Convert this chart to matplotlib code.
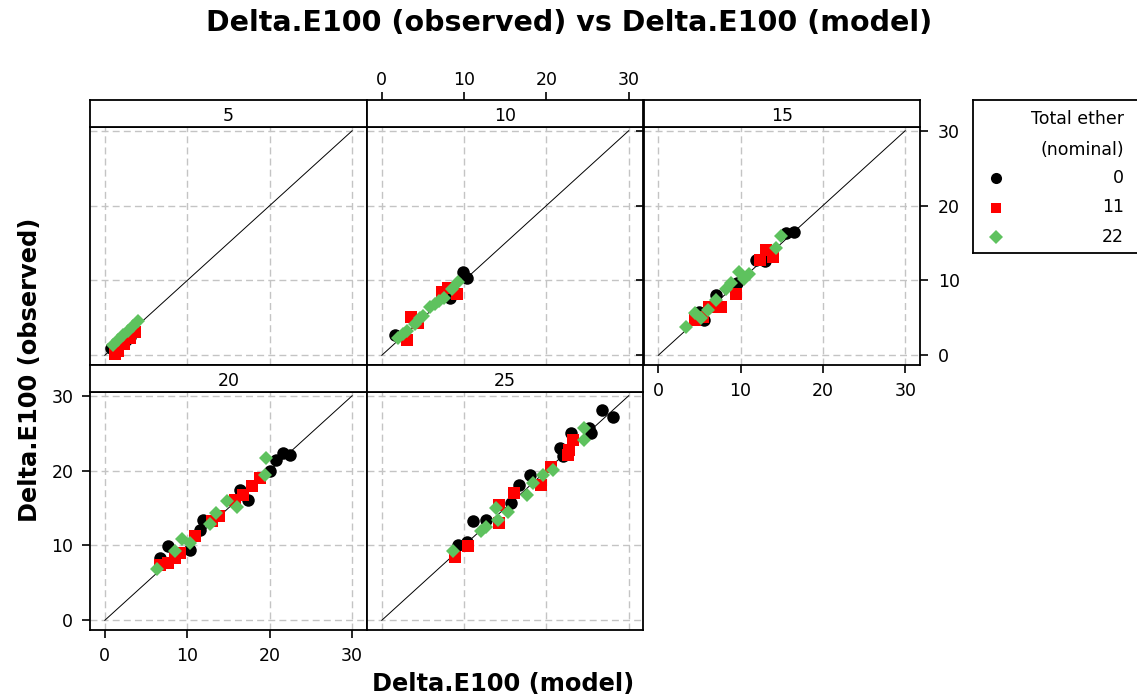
import matplotlib
matplotlib.use("Agg")
import matplotlib.pyplot as plt

# panel labels (nominal level) and ether groups
panel_labels = ['5', '10', '15', '20', '25']
ether_levels = ['0', '11', '22']

# panel "5"
x5_0 = [0.8, 1.1, 2.6, 3.1]
y5_0 = [1.0, 0.7, 2.0, 2.5]
x5_11 = [1.2, 1.6, 2.3, 3.0, 3.6]
y5_11 = [0.2, 0.6, 1.5, 2.3, 3.1]
x5_22 = [1.0, 1.6, 2.2, 2.8, 3.4, 4.0]
y5_22 = [1.4, 2.0, 2.7, 3.3, 3.9, 4.6]

# panel "10"
x10_0 = [1.6, 8.3, 9.9, 10.3]
y10_0 = [2.7, 7.6, 11.1, 10.3]
x10_11 = [3.0, 3.6, 7.3, 9.1, 8.0, 4.4]
y10_11 = [2.0, 5.1, 8.5, 8.2, 9.0, 4.3]
x10_22 = [2.0, 2.6, 3.0, 4.0, 4.6, 5.0, 5.8, 6.5, 7.0, 7.5, 8.5, 9.3]
y10_22 = [2.3, 2.9, 3.3, 4.2, 5.0, 5.3, 6.4, 6.9, 7.2, 7.6, 8.9, 9.8]

# panel "15"
x15_0 = [15.5, 16.5, 11.9, 9.6, 7.0, 5.0, 5.6, 13.0]
y15_0 = [16.4, 16.5, 12.7, 9.6, 8.0, 5.8, 4.7, 12.6]
x15_11 = [13.1, 13.9, 12.3, 9.4, 7.6, 6.2, 4.4, 5.4]
y15_11 = [14.0, 13.1, 12.7, 8.2, 6.5, 6.5, 4.7, 5.1]
x15_22 = [14.9, 14.3, 11.0, 9.8, 8.8, 8.2, 7.0, 6.0, 4.4, 3.4, 10.4, 5.2]
y15_22 = [16.0, 14.3, 10.9, 11.1, 9.6, 8.9, 7.4, 6.0, 5.6, 3.8, 10.2, 5.0]

# panel "20"
x20_0 = [21.6, 22.4, 20.8, 20.0, 16.4, 17.4, 11.9, 11.5, 10.3, 7.7, 6.7]
y20_0 = [22.3, 22.1, 21.4, 19.9, 17.4, 16.1, 13.4, 12.1, 9.4, 9.9, 8.3]
x20_11 = [18.8, 17.8, 16.8, 15.8, 13.9, 10.9, 8.5, 9.1, 6.7, 7.7, 13.0]
y20_11 = [19.0, 17.9, 16.8, 16.1, 13.9, 11.2, 8.3, 9.0, 7.4, 7.7, 13.2]
x20_22 = [19.6, 19.4, 16.0, 14.8, 13.5, 12.7, 10.3, 9.3, 8.5, 6.3]
y20_22 = [21.7, 19.4, 15.2, 15.9, 14.3, 12.8, 10.3, 10.8, 9.2, 6.8]

# panel "25"
x25_0 = [26.7, 28.1, 25.2, 25.4, 23.0, 21.6, 22.0, 18.0, 16.7, 15.7, 12.7, 11.1, 10.3, 9.3]
y25_0 = [28.1, 27.2, 25.7, 25.0, 25.0, 23.0, 21.9, 19.4, 18.1, 15.7, 13.4, 13.2, 10.5, 10.1]
x25_11 = [23.2, 22.8, 22.6, 20.6, 19.4, 16.1, 14.3, 14.3, 10.5, 8.9]
y25_11 = [24.1, 22.8, 22.1, 20.5, 18.1, 17.0, 15.4, 13.0, 9.9, 8.5]
x25_22 = [24.6, 24.6, 20.8, 19.6, 18.4, 17.6, 13.9, 15.3, 14.1, 12.7, 12.1, 8.7]
y25_22 = [25.7, 24.1, 20.1, 19.4, 18.3, 16.8, 15.0, 14.5, 13.4, 12.5, 11.9, 9.2]

axis_ticks = [0, 10, 20, 30]

data = {
    '5': [(x5_0, y5_0), (x5_11, y5_11), (x5_22, y5_22)],
    '10': [(x10_0, y10_0), (x10_11, y10_11), (x10_22, y10_22)],
    '15': [(x15_0, y15_0), (x15_11, y15_11), (x15_22, y15_22)],
    '20': [(x20_0, y20_0), (x20_11, y20_11), (x20_22, y20_22)],
    '25': [(x25_0, y25_0), (x25_11, y25_11), (x25_22, y25_22)],
}

markers = ['o', 's', 'D']
colors = ['black', '#ff0000', '#5ec25e']
msizes = [9.0, 8.5, 7.5]

plt.rcParams['font.family'] = 'DejaVu Sans'

W, H = 1137, 700
fig = plt.figure(figsize=(W / 100, H / 100), dpi=100)


def box(x0, y0, x1, y1):
    # pixel rectangle (top-left origin) -> figure fraction
    return [x0 / W, 1 - y1 / H, (x1 - x0) / W, (y1 - y0) / H]


cols = [(90, 367), (367, 643.5), (643.5, 920)]
rows = [(100, 127, 365), (365, 392, 630)]  # strip top, panel top, panel bottom
xlim = (-1.8, 31.8)
ylim = (-1.3, 30.5)
tick_fs = 12.5

for i, lab in enumerate(panel_labels):
    r, c = divmod(i, 3)
    x0, x1 = cols[c]
    st, pt, pb = rows[r]

    ax = fig.add_axes(box(x0, pt, x1, pb))
    ax.set_xlim(xlim)
    ax.set_ylim(ylim)
    ax.set_xticks(axis_ticks)
    ax.set_yticks(axis_ticks)
    ax.grid(True, color='#c4c4c4', lw=1.0, ls=(0, (5, 3)))
    ax.set_axisbelow(True)
    ax.tick_params(length=0, labelbottom=False, labelleft=False,
                   labelsize=tick_fs)
    for s in ax.spines.values():
        s.set_linewidth(1.3)

    ax.plot([0, 30], [0, 30], color='black', lw=0.7, zorder=2)
    for (xs, ys), m, col, ms in zip(data[lab], markers, colors, msizes):
        ax.plot(xs, ys, ls='none', marker=m, color=col, ms=ms,
                markeredgewidth=0, zorder=3)

    # bottom / left / right axes following the lattice layout
    if (r == 0 and c == 2) or (r == 1 and c == 0):
        ax.tick_params(axis='x', bottom=True, labelbottom=True,
                       direction='out', length=6, width=1.2, pad=6)
    if r == 1 and c == 0:
        ax.tick_params(axis='y', left=True, labelleft=True,
                       direction='out', length=6, width=1.2, pad=6)
    if r == 0 and c == 2:
        ax.tick_params(axis='y', right=True, labelright=True,
                       direction='out', length=6, width=1.2, pad=7)

    # strip
    sax = fig.add_axes(box(x0, st, x1, pt))
    sax.set_xlim(xlim)
    sax.set_yticks([])
    sax.set_facecolor('white')
    for s in sax.spines.values():
        s.set_linewidth(1.3)
    if r == 0 and c == 1:
        sax.set_xticks(axis_ticks)
        sax.tick_params(axis='x', bottom=False, labelbottom=False,
                        top=True, labeltop=True, direction='out',
                        length=6, width=1.2, pad=2, labelsize=tick_fs)
    else:
        sax.set_xticks([])
    sax.text(0.5, 0.42, lab, transform=sax.transAxes, ha='center',
             va='center', fontsize=tick_fs)

# key
lax = fig.add_axes(box(973, 100, 1150, 253))
lax.set_xlim(973, 1150)
lax.set_ylim(253, 100)
lax.set_xticks([])
lax.set_yticks([])
for s in lax.spines.values():
    s.set_linewidth(1.3)
lax.text(1124, 119, 'Total ether', ha='right', va='center', fontsize=tick_fs)
lax.text(1124, 150, '(nominal)', ha='right', va='center', fontsize=tick_fs)
for k, (lev, m, col) in enumerate(zip(ether_levels, markers, colors)):
    yk = 178 + k * 29.5
    lax.plot(996, yk, marker=m, color=col, ms=[8, 7.5, 7.5][k],
             markeredgewidth=0, ls='none')
    lax.text(1124, yk, lev, ha='right', va='center', fontsize=tick_fs)

fig.text(569.5 / W, 1 - 23 / H, 'Delta.E100 (observed) vs Delta.E100 (model)',
         ha='center', va='center', fontsize=20.5, fontweight='bold')
fig.text(503.5 / W, 1 - 684 / H, 'Delta.E100 (model)',
         ha='center', va='center', fontsize=17.4, fontweight='bold')
fig.text(30 / W, 1 - 370 / H, 'Delta.E100 (observed)', rotation=90,
         ha='center', va='center', fontsize=17.4, fontweight='bold')

fig.savefig('out.png', dpi=100)
